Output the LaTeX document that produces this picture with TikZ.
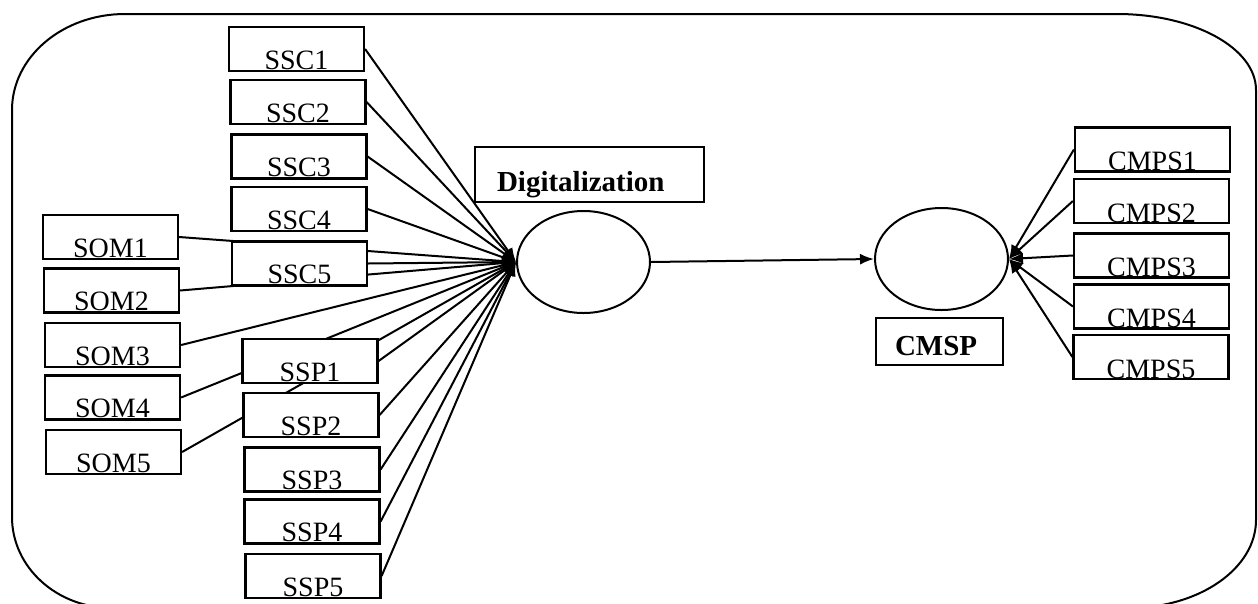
\documentclass[tikz,border=0pt]{standalone}
\usepackage{fontspec}
\setmainfont{Liberation Serif}
\usetikzlibrary{arrows.meta,shapes.geometric,backgrounds}
\tikzset{
  ind/.style={draw, line width=2.2pt, fill=white, minimum width=135pt, minimum height=44pt,
    text height=40pt, text depth=0pt, inner ysep=2pt, inner xsep=0pt,
    font=\fontsize{28}{30}\selectfont},
  cmps/.style={ind, minimum width=155pt, text height=42pt, inner ysep=1pt},
  lat/.style={draw, ellipse, line width=2pt, minimum width=133pt, minimum height=102pt, inner sep=0pt},
  title/.style={draw, line width=2.2pt, fill=white, font=\fontsize{29}{30}\selectfont\bfseries, inner sep=0pt},
  arr/.style={line width=2pt, -{Latex[length=14pt,width=11pt]}}
}
\begin{document}
\begin{tikzpicture}[x=1pt,y=1pt]
\useasboundingbox (0,0) rectangle (1258,-603);
% latent variables
\node[lat] (dig) at (583.5,-262) {};
\node[lat] (cmsp) at (941.5,-259) {};
\node[title, text height=44pt, text depth=11pt] (digt) at (589.5,-174.5) {\makebox[229pt][l]{\hspace{22pt}Digitalization}};
\node[title, text height=37pt, text depth=10pt] (cmspt) at (939.5,-341.5) {\makebox[127pt][l]{\hspace{19pt}CMSP}};
% indicators
\node[ind] (ssc1) at (296.5,-49) {SSC1};
\node[ind] (ssc2) at (298,-102) {SSC2};
\node[ind] (ssc3) at (299,-156.5) {SSC3};
\node[ind] (ssc4) at (299,-209) {SSC4};
\node[ind] (ssc5) at (299.5,-263.5) {SSC5};
\node[ind] (som1) at (110.5,-237) {SOM1};
\node[ind] (som2) at (111.5,-290.5) {SOM2};
\node[ind] (som3) at (112.5,-345) {SOM3};
\node[ind] (som4) at (112.5,-397.5) {SOM4};
\node[ind] (som5) at (113.5,-452) {SOM5};
\node[ind] (ssp1) at (310,-361) {SSP1};
\node[ind] (ssp2) at (311,-415) {SSP2};
\node[ind] (ssp3) at (312,-469.5) {SSP3};
\node[ind] (ssp4) at (312,-521.5) {SSP4};
\node[ind] (ssp5) at (313,-576) {SSP5};
\node[cmps] (cmps1) at (1152.5,-149.5) {CMPS1};
\node[cmps] (cmps2) at (1151.5,-201) {CMPS2};
\node[cmps] (cmps3) at (1151.5,-255.5) {CMPS3};
\node[cmps] (cmps4) at (1151.5,-306.5) {CMPS4};
\node[cmps] (cmps5) at (1151,-357) {CMPS5};
\coordinate (dtip) at (dig.west);
\coordinate (ctip) at (cmsp.east);
\begin{scope}[on background layer]
  \draw[line width=2pt] (125,-14) -- (1117,-14)
    arc[start angle=90, end angle=0, x radius=139, y radius=76] -- (1256,-520)
    arc[start angle=0, end angle=-90, x radius=127, y radius=88] -- (112,-608)
    arc[start angle=270, end angle=180, x radius=100, y radius=91] -- (12,-110)
    arc[start angle=180, end angle=90, x radius=113, y radius=96] -- cycle;
  \foreach \n in {ssc1,ssc2,ssc3,ssc4,ssc5,som1,som2,som3,som4,som5,ssp1,ssp2,ssp3,ssp4,ssp5}
    \draw[arr] (\n.east) -- (dtip);
  \foreach \n in {cmps1,cmps2,cmps3,cmps4,cmps5}
    \draw[arr] (\n.west) -- (ctip);
  \draw[arr] (dig.east) -- (cmsp.west);
\end{scope}
\end{tikzpicture}
\end{document}
